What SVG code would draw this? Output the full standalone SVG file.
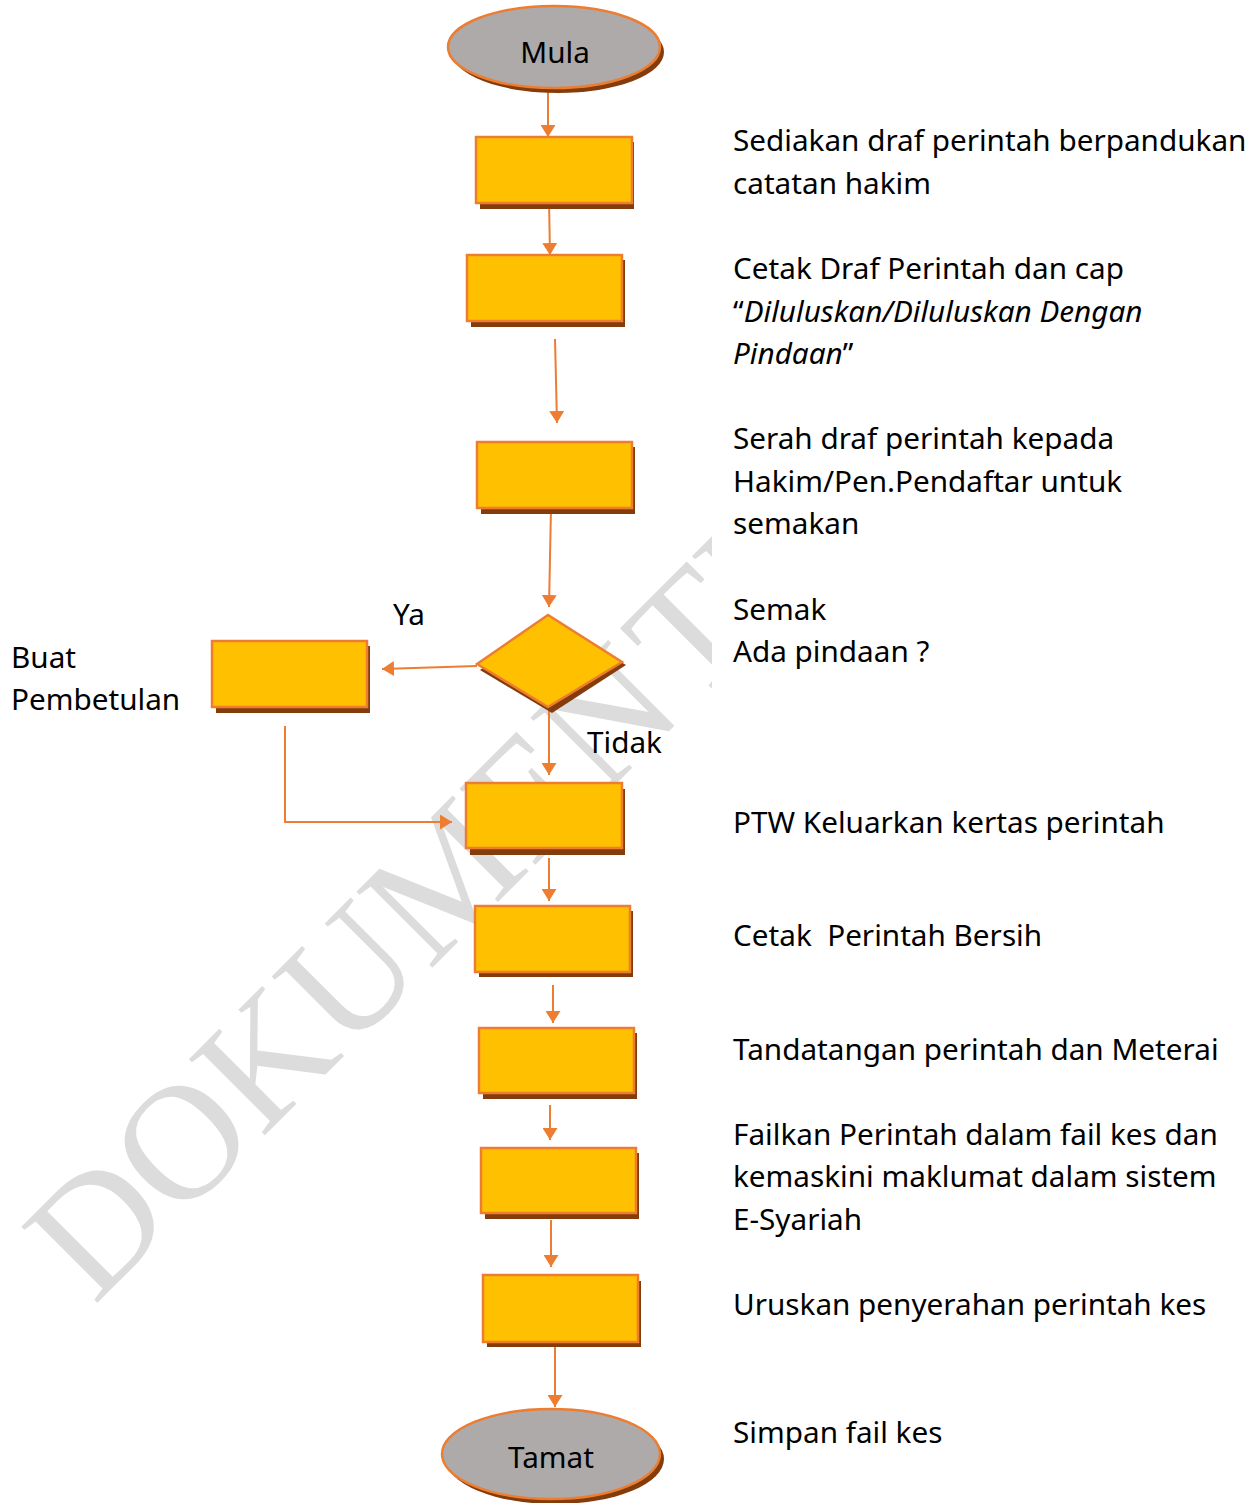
<svg xmlns="http://www.w3.org/2000/svg" width="1260" height="1503" viewBox="0 0 1260 1503">
<defs>
<style>
.box{fill:#FFC000;stroke:#ED7D31;stroke-width:2.5}
.sh{fill:#843C0C}
.term{fill:#AEAAAA;stroke:#ED7D31;stroke-width:2.5}
.con{fill:none;stroke:#ED7D31;stroke-width:2}
.t{font-family:"Noto Sans","Open Sans",sans-serif;font-size:29.7px;fill:#000}
.wm{font-family:"Liberation Serif","Times New Roman",serif;font-size:164px;fill:#DCDCDC}
</style>
<marker id="ah" viewBox="0 0 12 15" refX="12" refY="7.5" markerWidth="12" markerHeight="15" markerUnits="userSpaceOnUse" orient="auto">
<path d="M0,0 L12,7.5 L0,15 Z" fill="#ED7D31"/>
</marker>
<clipPath id="wmclip"><rect x="0" y="0" width="712" height="1503"/></clipPath>
</defs>
<rect width="1260" height="1503" fill="#fff"/>
<g id="watermark" clip-path="url(#wmclip)">
<text class="wm" transform="translate(94,1306) rotate(-45)">DOKUMEN<tspan dx="10">TERKAWAL</tspan></text>
</g>
<g id="connectors">
<line class="con" x1="548" y1="92" x2="548" y2="137" marker-end="url(#ah)"/>
<line class="con" x1="549" y1="200" x2="550" y2="255" marker-end="url(#ah)"/>
<line class="con" x1="555" y1="339" x2="557" y2="423" marker-end="url(#ah)"/>
<line class="con" x1="551" y1="508" x2="549" y2="607" marker-end="url(#ah)"/>
<line class="con" x1="477" y1="666" x2="382" y2="669" marker-end="url(#ah)"/>
<line class="con" x1="549" y1="708" x2="549" y2="775" marker-end="url(#ah)"/>
<polyline class="con" points="285,726 285,822 452,822" marker-end="url(#ah)"/>
<line class="con" x1="549" y1="858" x2="549" y2="901" marker-end="url(#ah)"/>
<line class="con" x1="553" y1="985" x2="553" y2="1023" marker-end="url(#ah)"/>
<line class="con" x1="550" y1="1105" x2="550" y2="1140" marker-end="url(#ah)"/>
<line class="con" x1="551" y1="1220" x2="551" y2="1267" marker-end="url(#ah)"/>
<line class="con" x1="555" y1="1347" x2="555" y2="1407" marker-end="url(#ah)"/>
</g>
<g id="mula">
<ellipse class="sh" cx="558" cy="52" rx="106" ry="41"/>
<ellipse class="term" cx="554" cy="47" rx="106" ry="41"/>
<text class="t" x="555" y="63" text-anchor="middle">Mula</text>
</g>
<g id="n1">
<rect class="sh" x="480" y="142" width="154" height="67"/>
<rect class="box" x="476" y="137" width="156" height="66"/>
</g>
<g id="n2">
<rect class="sh" x="471" y="260" width="154" height="67"/>
<rect class="box" x="467" y="255" width="155" height="66"/>
</g>
<g id="n3">
<rect class="sh" x="481" y="447" width="154" height="67"/>
<rect class="box" x="477" y="442" width="155" height="66"/>
</g>
<g id="decision">
<polygon class="sh" points="480,670 552,621 626,665 552,713"/>
<polygon class="box" points="477,664 548,615 622,662 548,707"/>
</g>
<g id="buat">
<rect class="sh" x="216" y="646" width="154" height="67"/>
<rect class="box" x="212" y="641" width="155" height="66"/>
</g>
<g id="n4">
<rect class="sh" x="470" y="789" width="155" height="66"/>
<rect class="box" x="466" y="783" width="156" height="65"/>
</g>
<g id="n5">
<rect class="sh" x="479" y="911" width="154" height="66"/>
<rect class="box" x="475" y="906" width="155" height="66"/>
</g>
<g id="n6">
<rect class="sh" x="483" y="1033" width="154" height="66"/>
<rect class="box" x="479" y="1028" width="155" height="65"/>
</g>
<g id="n7">
<rect class="sh" x="485" y="1153" width="154" height="66"/>
<rect class="box" x="481" y="1148" width="155" height="65"/>
</g>
<g id="n8">
<rect class="sh" x="487" y="1281" width="154" height="66"/>
<rect class="box" x="483" y="1275" width="155" height="67"/>
</g>
<g id="tamat">
<ellipse class="sh" cx="555" cy="1459" rx="109" ry="45"/>
<ellipse class="term" cx="551" cy="1454" rx="109" ry="45"/>
<text class="t" x="551" y="1468" text-anchor="middle">Tamat</text>
</g>
<g id="labels">
<text class="t" x="393" y="625">Ya</text>
<text class="t" x="587" y="753">Tidak</text>
<text class="t" x="11" y="668">Buat</text>
<text class="t" x="11" y="710">Pembetulan</text>
<text class="t" x="733" y="151">Sediakan draf perintah berpandukan</text>
<text class="t" x="733" y="194">catatan hakim</text>
<text class="t" x="733" y="279">Cetak Draf Perintah dan cap</text>
<text class="t" x="733" y="322">“<tspan font-style="italic">Diluluskan/Diluluskan Dengan</tspan></text>
<text class="t" x="733" y="364"><tspan font-style="italic">Pindaan</tspan>”</text>
<text class="t" x="733" y="449">Serah draf perintah kepada</text>
<text class="t" x="733" y="492">Hakim/Pen.Pendaftar untuk</text>
<text class="t" x="733" y="534">semakan</text>
<text class="t" x="733" y="620">Semak</text>
<text class="t" x="733" y="662">Ada pindaan ?</text>
<text class="t" x="733" y="833">PTW Keluarkan kertas perintah</text>
<text class="t" x="733" y="946" xml:space="preserve">Cetak  Perintah Bersih</text>
<text class="t" x="733" y="1060">Tandatangan perintah dan Meterai</text>
<text class="t" x="733" y="1145">Failkan Perintah dalam fail kes dan</text>
<text class="t" x="733" y="1187">kemaskini maklumat dalam sistem</text>
<text class="t" x="733" y="1230">E-Syariah</text>
<text class="t" x="733" y="1315">Uruskan penyerahan perintah kes</text>
<text class="t" x="733" y="1443">Simpan fail kes</text>
</g>
</svg>
